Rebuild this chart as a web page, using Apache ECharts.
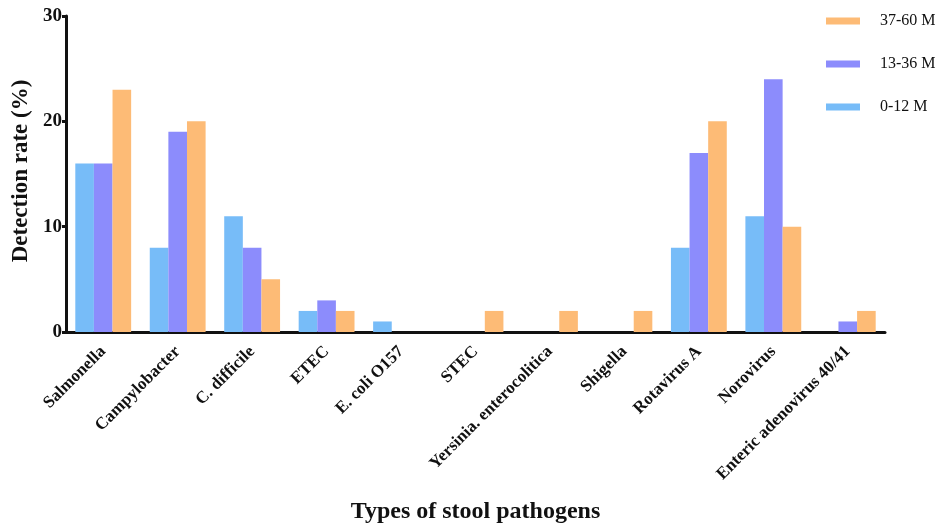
<!DOCTYPE html>
<html>
<head>
<meta charset="utf-8">
<script src="https://cdn.jsdelivr.net/npm/echarts@6/dist/echarts.min.js"></script>
<style>html,body{margin:0;padding:0;background:#fff;}#c{width:937px;height:525px;}</style>
</head>
<body>
<div id="c"></div>
<script>
const categories = ['Salmonella','Campylobacter','C. difficile','ETEC','E. coli O157','STEC','Yersinia. enterocolitica','Shigella','Rotavirus A','Norovirus','Enteric adenovirus 40/41'];
const s0_12 = [16, 8, 11, 2, 1, 0, 0, 0, 8, 11, 0];
const s13_36 = [16, 19, 8, 3, 0, 0, 0, 0, 17, 24, 1];
const s37_60 = [23, 20, 5, 2, 0, 2, 2, 2, 20, 10, 2];
const yTicks = [0, 10, 20, 30];

const font = '"Liberation Serif","Times New Roman",serif';
const chart = echarts.init(document.getElementById('c'));
chart.setOption({
  animation: false,
  grid: {left: 66, right: 52, top: 16, bottom: 193, containLabel: false, outerBoundsMode: 'none'},
  legend: {
    orient: 'vertical', left: 826, top: 13, padding: 0,
    data: ['37-60 M','13-36 M','0-12 M'],
    itemWidth: 34, itemHeight: 7, itemGap: 27,
    textStyle: {fontFamily: font, fontSize: 16, color: '#111', padding: [0,0,0,15]},
    icon: 'rect'
  },
  xAxis: {
    type: 'category', data: categories,
    axisLine: {lineStyle: {color: '#111', width: 3}},
    axisTick: {show: false},
    axisLabel: {interval: 0, rotate: 45, fontFamily: font, fontWeight: 'bold', fontSize: 17, color: '#111', margin: 17},
    name: 'Types of stool pathogens', nameLocation: 'middle', nameGap: 168,
    nameTextStyle: {fontFamily: font, fontWeight: 'bold', fontSize: 24, color: '#111'}
  },
  yAxis: {
    type: 'value', min: yTicks[0], max: yTicks[yTicks.length-1], interval: 10,
    splitLine: {show: false},
    axisLine: {show: true, lineStyle: {color: '#111', width: 3}},
    axisTick: {show: true, length: 4, lineStyle: {width: 3, color: '#111'}},
    axisLabel: {fontFamily: font, fontWeight: 'bold', fontSize: 19, color: '#111', margin: 4},
    name: 'Detection rate (%)', nameLocation: 'middle', nameGap: 33,
    nameTextStyle: {fontFamily: font, fontWeight: 'bold', fontSize: 23, color: '#111', padding: [0,0,0,6]}
  },
  series: [
    {name: '0-12 M', type: 'bar', data: s0_12, barGap: '0%', barCategoryGap: '25%', itemStyle: {color: '#77BCF8'}},
    {name: '13-36 M', type: 'bar', data: s13_36, barGap: '0%', barCategoryGap: '25%', itemStyle: {color: '#8C8CFC'}},
    {name: '37-60 M', type: 'bar', data: s37_60, barGap: '0%', barCategoryGap: '25%', itemStyle: {color: '#FDBB76'}}
  ]
});
</script>
</body>
</html>
